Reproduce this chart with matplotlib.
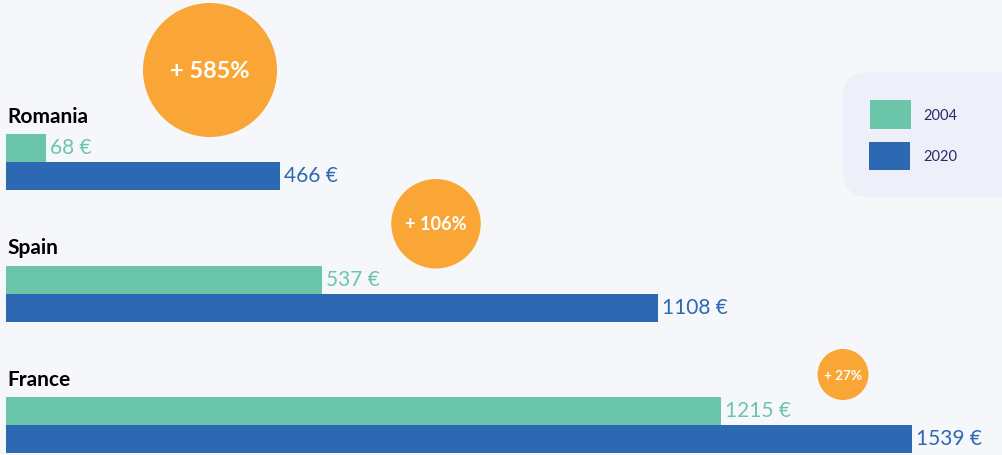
import numpy as np
import matplotlib
matplotlib.use('Agg')
import matplotlib.pyplot as plt
from matplotlib.patches import FancyBboxPatch, Rectangle, Circle

# DATA
countries = ['Romania', 'Spain', 'France']
years = ['2004', '2020']
salary_2004 = [68, 537, 1215]
salary_2020 = [466, 1108, 1539]

# colours
BG = '#f6f7fb'
BOX = '#edf0f8'
TEAL = '#6bc6a9'
BLUE = '#2d68b2'
ORANGE = '#f9a636'
NAVY = '#2c2768'

plt.rcParams['font.family'] = ['Lato', 'DejaVu Sans']

W, H = 1003, 455
fig = plt.figure(figsize=(W / 100, H / 100), dpi=100, facecolor=BG)

# main axes: bars in euro units, y in pixel rows
ax = fig.add_axes([0, 0, 1, 1])
ax.set_facecolor(BG)
x0, x_end = 6, 912          # bars start at 6px, longest bar ends at 912px
s = (x_end - x0) / max(salary_2020)
ax.set_xlim(-x0 / s, (W - x0) / s)
ax.set_ylim(H, 0)
ax.axis('off')

# overlay axes in pixel units for bubbles and legend
ov = fig.add_axes([0, 0, 1, 1], zorder=2)
ov.set_xlim(0, W)
ov.set_ylim(H, 0)
ov.patch.set_alpha(0)
ov.axis('off')

bar_h = 28
splits = 162 + 131.5 * np.arange(len(countries))
bubble_x = [210, 436, 843]

pct = [(b - a) / a * 100 for a, b in zip(salary_2004, salary_2020)]
lp = np.log(pct)
radii = 25.5 + (67 - 25.5) * (lp - lp.min()) / (lp.max() - lp.min()) ** 0.97

ax.barh(splits - bar_h / 2, salary_2004, height=bar_h, color=TEAL, linewidth=0)
ax.barh(splits + bar_h / 2, salary_2020, height=bar_h, color=BLUE, linewidth=0)

for i, c in enumerate(countries):
    y = splits[i]
    ax.text(1 / s, y - bar_h - 11, c, fontsize=15, fontweight='bold',
            color='black', va='baseline', ha='left')
    ax.text(salary_2004[i] + 4 / s, y - bar_h / 2, f'{salary_2004[i]} €',
            fontsize=15, color=TEAL, va='center', ha='left')
    ax.text(salary_2020[i] + 4 / s, y + bar_h / 2, f'{salary_2020[i]} €',
            fontsize=15, color=BLUE, va='center', ha='left')

    r = min(radii[i], 67)
    cy = y - bar_h + 3 - r
    ov.add_patch(Circle((bubble_x[i], cy), r, color=ORANGE, lw=0))
    ov.text(bubble_x[i], cy + 1, f'+ {pct[i]:.0f}%', color='white',
            fontweight='bold', fontsize=r * 0.17 + 5.5, ha='center', va='center')

# legend
ov.add_patch(FancyBboxPatch((843, 72), 200, 125,
                            boxstyle='round,pad=0,rounding_size=26',
                            color=BOX, lw=0))
ov.add_patch(Rectangle((870, 100), 41, 29, color=TEAL, lw=0))
ov.add_patch(Rectangle((869, 142), 41, 28, color=BLUE, lw=0))
ov.text(923, 116, years[0], color=NAVY, fontsize=10.5, va='center', ha='left')
ov.text(923, 157, years[1], color=NAVY, fontsize=10.5, va='center', ha='left')

fig.savefig('out.png', dpi=100, facecolor=BG)
